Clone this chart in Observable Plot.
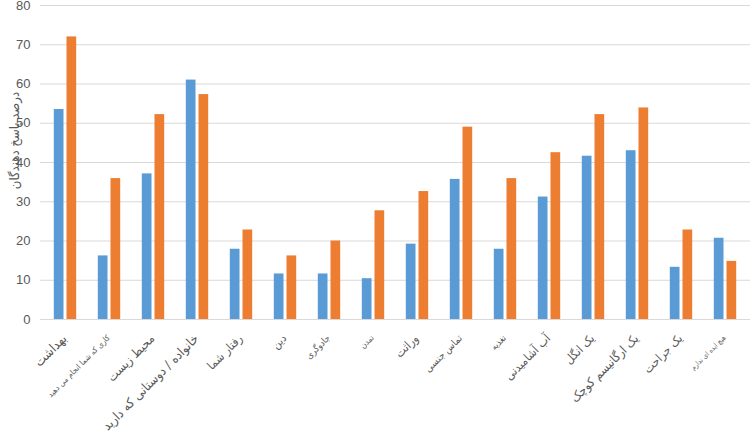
<!DOCTYPE html>
<html><head><meta charset="utf-8">
<script src="https://cdn.jsdelivr.net/npm/d3@7"></script>
<script src="https://cdn.jsdelivr.net/npm/@observablehq/plot@0.6"></script>
<style>body{margin:0;background:#fff} svg{display:block}</style>
</head><body><div id="chart"></div>
<script>
const categories = [
  "بهداشت",
  "کاری که شما انجام می دهید",
  "محیط زیست",
  "خانواده / دوستانی که دارید",
  "رفتار شما",
  "دین",
  "جادوگری",
  "تمدن",
  "وراثت",
  "تماس جنسی",
  "تغذیه",
  "آب آشامیدنی",
  "یک انگل",
  "یک ارگانیسم کوچک",
  "یک جراحت",
  "هیچ ایده ای ندارم"
];
const blueValues   = [53.5, 16.2, 37.1, 61.0, 17.9, 11.6, 11.6, 10.4, 19.2, 35.7, 17.9, 31.2, 41.6, 43.0, 13.3, 20.7];
const orangeValues = [72.0, 35.9, 52.2, 57.3, 22.8, 16.2, 20.0, 27.7, 32.6, 49.0, 35.9, 42.5, 52.2, 53.9, 22.8, 14.8];
const yTicks = [0, 10, 20, 30, 40, 50, 60, 70, 80];
const yTitle = "درصد پاسخ دهندگان";
// style only: font size of each category label as drawn in the reference
const labelFontSizes = [13, 8, 12.5, 13, 12, 11, 9, 8, 12, 10, 9, 12, 12, 12.5, 12, 7];

const rows = categories.map((c, i) => ({category: c, blue: blueValues[i], orange: orangeValues[i], size: labelFontSizes[i]}));

const arabicFont = "'DejaVu Sans Condensed', 'DejaVu Sans', sans-serif";

const chart = Plot.plot({
  width: 750, height: 442,
  marginLeft: 40, marginRight: 0, marginTop: 5, marginBottom: 123,
  style: {fontFamily: "'Liberation Sans', Arial, sans-serif", background: "#fff"},
  x: {domain: categories, padding: 0, axis: null},
  y: {domain: [0, 80], axis: null},
  marks: [
    Plot.gridY(yTicks, {stroke: "#d9d9d9", strokeOpacity: 1}),
    Plot.axisY(yTicks, {tickSize: 0, tickPadding: 10, fontSize: 13, fill: "#595959", label: null}),
    Plot.barY(rows, {x: "category", y: "blue", fill: "#5B9BD5", insetLeft: 10.8, insetRight: 23.5}),
    Plot.barY(rows, {x: "category", y: "orange", fill: "#ED7D31", insetLeft: 23.5, insetRight: 10.8}),
    Plot.text(rows, {x: "category", text: d => d.category, fontSize: d => d.size, rotate: -45,
      textAnchor: "end", lineAnchor: "middle", frameAnchor: "bottom", dy: 17, dx: -1,
      fill: "#595959", fontFamily: arabicFont}),
    Plot.text([yTitle], {text: d => d, frameAnchor: "left", textAnchor: "middle", rotate: -90, dx: -26, dy: -22,
      fontSize: 13, fill: "#595959", fontFamily: arabicFont})
  ]
});
document.getElementById("chart").appendChild(chart);
</script>
</body></html>
